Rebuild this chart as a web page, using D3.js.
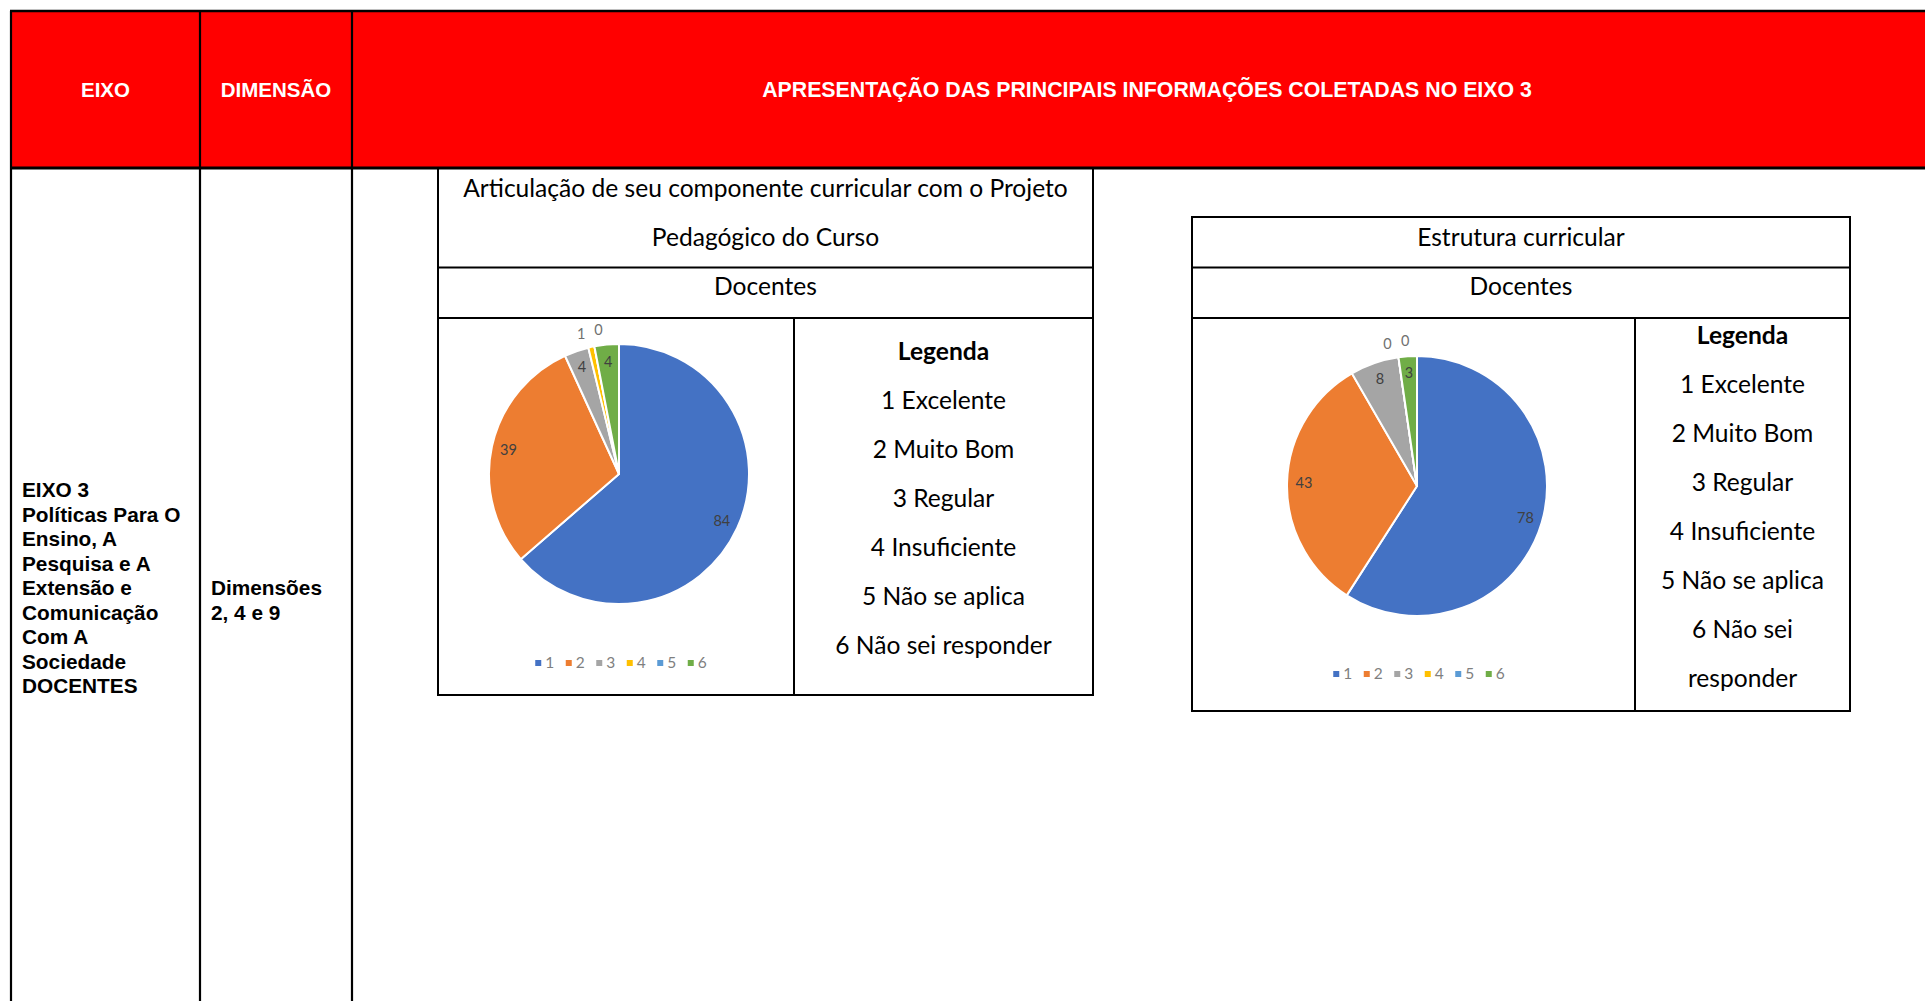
<!DOCTYPE html>
<html><head><meta charset="utf-8">
<script src="https://cdn.jsdelivr.net/npm/d3@7"></script>
<style>body{margin:0;background:#fff;overflow:hidden}</style>
</head><body><svg id="c" width="1925" height="1001"></svg>
<script>
// ---------- data ----------
const categories = ["1","2","3","4","5","6"];
const legendLabels1 = ["1 Excelente","2 Muito Bom","3 Regular","4 Insuficiente","5 Não se aplica","6 Não sei responder"];
const legendLabels2 = ["1 Excelente","2 Muito Bom","3 Regular","4 Insuficiente","5 Não se aplica","6 Não sei","responder"];
const valuesArticulacao = [84,39,4,1,0,4];
const valuesEstrutura = [78,43,8,0,0,3];
const sliceColors = ["#4472C4","#ED7D31","#A5A5A5","#FFC000","#5B9BD5","#70AD47"];
const headerLabels = ["EIXO","DIMENSÃO","APRESENTAÇÃO DAS PRINCIPAIS INFORMAÇÕES COLETADAS NO EIXO 3"];
const eixoLines = ["EIXO 3","Políticas Para O","Ensino, A","Pesquisa e A","Extensão e","Comunicação","Com A","Sociedade","DOCENTES"];
const dimensaoLines = ["Dimensões","2, 4 e 9"];
const chart1Title = ["Articulação de seu componente curricular com o Projeto","Pedagógico do Curso"];
const chart2Title = ["Estrutura curricular"];
const subTitle = "Docentes";
const legendHeading = "Legenda";

// ---------- setup ----------
const svg = d3.select("#c");
const ARIAL = "'Liberation Sans', Arial, sans-serif";
const CAL = "Lato, 'Open Sans', sans-serif";

function measure(txt, family, weight, size){
  const t = svg.append("text").attr("font-family",family).attr("font-weight",weight)
    .attr("font-size",size).text(txt);
  const w = t.node().getComputedTextLength(); t.remove(); return w;
}
const calSize = 20 * 605 / measure(chart1Title[0], CAL, "normal", 20);
const headSize = 20 * 770 / measure(headerLabels[2], ARIAL, "bold", 20);

// ---------- table ----------
const colX = [11, 200, 352, 1942];
const tableTop = 11, headBottom = 168, tableBottom = 1030;

svg.append("rect").attr("x",colX[0]).attr("y",tableTop)
  .attr("width",colX[3]-colX[0]).attr("height",headBottom-tableTop).attr("fill","#FF0000");

const hx = [(colX[0]+colX[1])/2, (colX[1]+colX[2])/2, (colX[2]+colX[3])/2];
svg.selectAll("text.head").data(headerLabels).join("text").attr("class","head")
  .attr("x",(d,i)=>hx[i]).attr("y",(tableTop+headBottom)/2).attr("dy","0.36em")
  .attr("text-anchor","middle").attr("fill","#fff").attr("font-family",ARIAL)
  .attr("font-weight","bold").attr("font-size",(d,i)=> i<2 ? 20.5 : headSize).text(d=>d);

const lineG = svg.append("g").attr("stroke","#000");
lineG.append("line").attr("x1",colX[0]-1).attr("x2",colX[3]).attr("y1",tableTop).attr("y2",tableTop).attr("stroke-width",2.5);
lineG.append("line").attr("x1",colX[0]-1).attr("x2",colX[3]).attr("y1",headBottom).attr("y2",headBottom).attr("stroke-width",3);
colX.forEach(x=>lineG.append("line").attr("x1",x).attr("x2",x).attr("y1",tableTop).attr("y2",tableBottom).attr("stroke-width",2.2));

svg.append("g").selectAll("text").data(eixoLines).join("text")
  .attr("x",22).attr("y",(d,i)=>490+i*24.5).attr("dy","0.36em")
  .attr("font-family",ARIAL).attr("font-weight","bold").attr("font-size",20.8).attr("fill","#000").text(d=>d);
svg.append("g").selectAll("text").data(dimensaoLines).join("text")
  .attr("x",211).attr("y",(d,i)=>588+i*24.5).attr("dy","0.36em")
  .attr("font-family",ARIAL).attr("font-weight","bold").attr("font-size",20.8).attr("fill","#000").text(d=>d);

// ---------- chart boxes ----------
const boxes = [
  {left:438, right:1093, top:168, titleBottom:267.6, subBottom:318, bottom:695, divider:794,
   title:chart1Title, legend:legendLabels1, values:valuesArticulacao, cx:619, cy:474, r:130, legendY:663},
  {left:1192, right:1850, top:217, titleBottom:267.6, subBottom:318, bottom:711, divider:1635,
   title:chart2Title, legend:legendLabels2, values:valuesEstrutura, cx:1417, cy:486, r:130, legendY:674}
];

const color = d3.scaleOrdinal().domain(categories).range(sliceColors);
const deg = Math.PI/180;

boxes.forEach(b=>{
  const g = svg.append("g");
  const bl = g.append("g").attr("stroke","#000").attr("stroke-width",2);
  bl.append("rect").attr("x",b.left).attr("y",b.top).attr("width",b.right-b.left).attr("height",b.bottom-b.top).attr("fill","none");
  bl.append("line").attr("x1",b.left).attr("x2",b.right).attr("y1",b.titleBottom).attr("y2",b.titleBottom);
  bl.append("line").attr("x1",b.left).attr("x2",b.right).attr("y1",b.subBottom).attr("y2",b.subBottom);
  bl.append("line").attr("x1",b.divider).attr("x2",b.divider).attr("y1",b.subBottom).attr("y2",b.bottom);

  const mid = (b.left+b.right)/2;
  g.selectAll("text.title").data(b.title).join("text").attr("class","title")
    .attr("x",mid).attr("y",(d,i)=>b.top+20+i*49.2).attr("dy","0.35em").attr("text-anchor","middle")
    .attr("font-family",CAL).attr("font-size",calSize).attr("fill","#000").text(d=>d);
  g.append("text").attr("x",mid).attr("y",b.titleBottom+19).attr("dy","0.35em").attr("text-anchor","middle")
    .attr("font-family",CAL).attr("font-size",calSize).attr("fill","#000").text(subTitle);

  // legend column
  const lcx = (b.divider+b.right)/2;
  const legLines = [legendHeading].concat(b.legend);
  const step = 49;
  const lcy = (b.subBottom+b.bottom)/2 - 8;
  const y0 = lcy - step*(legLines.length-1)/2;
  g.selectAll("text.leg").data(legLines).join("text").attr("class","leg")
    .attr("x",lcx).attr("y",(d,i)=>y0+i*step).attr("dy","0.35em").attr("text-anchor","middle")
    .attr("font-family",CAL).attr("font-weight",(d,i)=>i===0?"bold":"normal")
    .attr("font-size",calSize).attr("fill","#000").text(d=>d);

  // pie
  const data = b.values.map((v,i)=>({cat:categories[i], v}));
  const arcs = d3.pie().sort(null).value(d=>d.v)(data);
  const arc = d3.arc().innerRadius(0).outerRadius(b.r);
  const pg = g.append("g").attr("transform",`translate(${b.cx},${b.cy})`);
  pg.selectAll("path").data(arcs).join("path").attr("d",arc)
    .attr("fill",d=>color(d.data.cat)).attr("stroke","#fff").attr("stroke-width",2).attr("stroke-linejoin","round");

  // labels
  const labels = arcs.map(a=>{
    const span = a.endAngle-a.startAngle;
    const inside = span > 5*deg;
    return {a, inside, ang:(a.startAngle+a.endAngle)/2, rad: inside ? b.r*0.87 : b.r*1.12};
  });
  const outs = labels.filter(l=>!l.inside).sort((p,q)=>p.ang-q.ang);
  const minGap = 7*deg;
  let groups = [];
  outs.forEach(l=>{
    const last = groups[groups.length-1];
    if(last && l.ang - last[last.length-1].ang < minGap) last.push(l); else groups.push([l]);
  });
  groups.forEach(gr=>{
    if(gr.length<2) return;
    const m = d3.mean(gr,l=>l.ang);
    gr.forEach((l,i)=>{ l.ang = m + (i-(gr.length-1)/2)*minGap; });
  });
  pg.selectAll("text").data(labels).join("text")
    .attr("x",l=>Math.sin(l.ang)*l.rad).attr("y",l=>-Math.cos(l.ang)*l.rad)
    .attr("dy","0.35em").attr("text-anchor","middle")
    .attr("font-family",CAL).attr("font-size",14.5)
    .attr("fill",l=>l.inside?"#404040":"#707070").text(l=>l.a.data.v);

  // bottom legend
  const pitch = 30.5, mk = 6;
  const lg = g.append("g");
  const totalW = pitch*(categories.length-1) + mk + 4 + 9;
  const lx0 = b.cx + 2 - totalW/2;
  const items = lg.selectAll("g").data(categories).join("g")
    .attr("transform",(d,i)=>`translate(${lx0+i*pitch},${b.legendY})`);
  items.append("rect").attr("x",0).attr("y",-mk/2).attr("width",mk).attr("height",mk).attr("fill",d=>color(d));
  items.append("text").attr("x",mk+4).attr("y",0).attr("dy","0.35em")
    .attr("font-family",CAL).attr("font-size",15.5).attr("fill","#7f7f7f").text(d=>d);
});
</script></body></html>
